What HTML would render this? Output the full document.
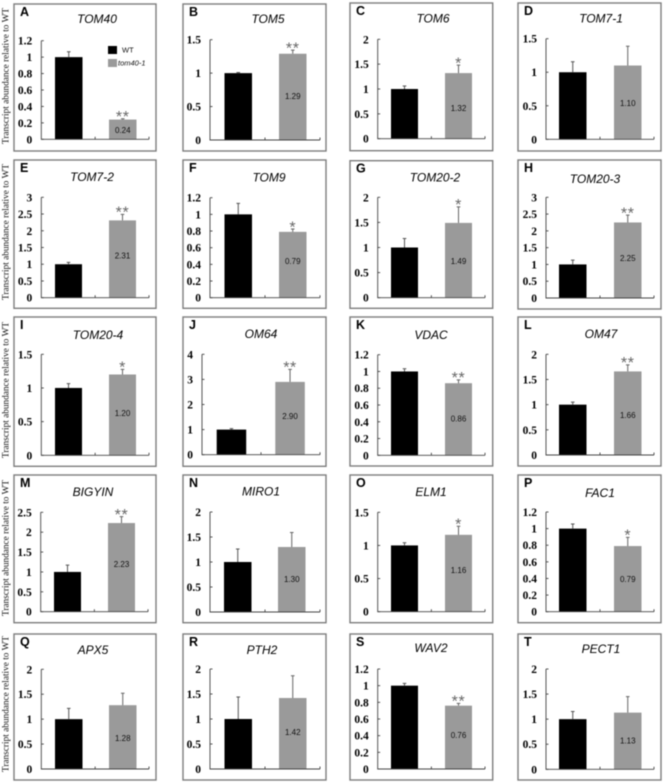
<!DOCTYPE html>
<html lang="en">
<head>
<meta charset="utf-8">
<title>Transcript abundance relative to WT</title>
<style>
html,body{margin:0;padding:0;background:#fff;width:666px;height:783px;overflow:hidden}
svg{display:block;filter:blur(0.45px)}
.ytick{font:bold 11.5px "Liberation Serif",serif;fill:#000;text-anchor:end}
.ylabel{font:9.5px "Liberation Serif",serif;fill:#111;text-anchor:middle}
.title{font:italic 12px "Liberation Sans",sans-serif;fill:#000;text-anchor:middle}
.letter{font:bold 12.5px "Liberation Sans",sans-serif;fill:#000}
.value{font:8px "Liberation Sans",sans-serif;fill:#111;text-anchor:middle}
.star{font:16px "Liberation Sans",sans-serif;fill:#666;text-anchor:middle;letter-spacing:0.6px}
.legend{font:7.5px "Liberation Sans",sans-serif;fill:#111}
</style>
</head>
<body>
<svg id="chart" width="666" height="783" viewBox="0 0 666 783" xmlns="http://www.w3.org/2000/svg"></svg>
<script>
// ---- chart data ----
const panelLetters = ["A","B","C","D","E","F","G","H","I","J","K","L","M","N","O","P","Q","R","S","T"];
const geneNames = ["TOM40","TOM5","TOM6","TOM7-1","TOM7-2","TOM9","TOM20-2","TOM20-3","TOM20-4","OM64","VDAC","OM47","BIGYIN","MIRO1","ELM1","FAC1","APX5","PTH2","WAV2","PECT1"];
const wtValues = [1,1,1,1,1,1,1,1,1,1,1,1,1,1,1,1,1,1,1,1];
const wtErrorTops = [1.066,1.01,1.06,1.157,1.056,1.132,1.18,1.13,1.064,1.04,1.033,1.05,1.17,1.26,1.04,1.055,1.217,1.44,1.028,1.153];
const mutantValues = [0.24,1.29,1.32,1.10,2.31,0.79,1.49,2.25,1.20,2.90,0.86,1.66,2.23,1.30,1.16,0.79,1.28,1.42,0.76,1.13];
const mutantErrorTops = [0.25,1.345,1.48,1.387,2.49,0.824,1.81,2.47,1.277,3.40,0.90,1.79,2.39,1.59,1.29,0.895,1.52,1.865,0.788,1.45];
const valueLabels = ["0.24","1.29","1.32","1.10","2.31","0.79","1.49","2.25","1.20","2.90","0.86","1.66","2.23","1.30","1.16","0.79","1.28","1.42","0.76","1.13"];
const significance = ["**","**","*","","**","*","*","**","*","**","**","**","**","","*","*","","","**",""];
const ticks12 = ["0","0.2","0.4","0.6","0.8","1","1.2"];
const ticks15 = ["0","0.5","1","1.5"];
const ticks2 = ["0","0.5","1","1.5","2"];
const ticks25 = ["0","0.5","1","1.5","2","2.5"];
const ticks3 = ["0","0.5","1","1.5","2","2.5","3"];
const ticks4 = ["0","1","2","3","4"];
const panelTicks = [ticks12,ticks15,ticks2,ticks15,ticks3,ticks12,ticks2,ticks3,ticks15,ticks4,ticks12,ticks2,ticks25,ticks2,ticks15,ticks12,ticks2,ticks2,ticks12,ticks2];
const yAxisTitle = "Transcript abundance relative to WT";
const legendLabels = ["WT","tom40-1"];

// ---- page layout (not data) ----
const layoutBoxes = [
 [14,4,156,151],[183,4,326,151],[350,3,492.7,150.7],[518,3,661,151],
 [14,160,156,308.3],[183,160,326,308.3],[350,160.7,492.7,308.3],[518,160,661,309],
 [14,317,156,466.3],[183,317,326,466.3],[350,317,492.7,466],[518,317,661,466],
 [14,475,156,622.7],[183,475,326,622.7],[350,475,492.7,622.7],[518,475,661,622.7],
 [14,634,156,780],[183,634,326,780],[350,634,492.7,780],[518,634,661,780]];
const layoutPlots = [
 [41.3,149,40.7,139.3],[210,320,39.7,140],[377.7,485,39.3,138.7],[546,654,38.7,139.3],
 [41.3,149,197.3,297.7],[210,320,197.7,297.7],[377.7,485,197.3,297.7],[546,654,197.3,298],
 [41.3,149,354.3,455.3],[202,320,354.3,454.7],[377.7,485,354.7,455.3],[546,654,354.3,455],
 [40.7,148,512.3,611.7],[210,320,512,612],[377.7,485,512.3,611.7],[546,654,512,611.7],
 [41.3,149,669.3,769],[210,320,669,769],[377.7,485,669,769],[546,654,669,769.3]];
const layoutBars = [
 [55,109,27.5],[224.5,279,27.5],[391,445,27],[559,614,27.5],
 [55,109,27],[224.5,279,27.5],[391,445,27],[559,614,27.5],
 [55,109,27],[216.7,275.3,29.5],[391,445,27],[559,614,27.5],
 [54,108,27],[224,278,27.5],[391,445,27],[559,614,27.5],
 [55,109,27.5],[224.5,279,27.5],[391,445,27],[559,614,27.5]];
const layoutTitles = [
 [97,23],[268,23],[433,22.7],[601,22.7],
 [92,181],[269,181.5],[435,181.5],[595,183],
 [98,339],[261,338],[431,339],[601,338],
 [93,496],[261,495.7],[431,496],[600,497],
 [93,654],[262,654],[431,652],[601,653]];
const layoutValueShift = [0.6,-1,2.4,0.9,-3.3,-3.8,0.7,-1.9,-1.6,-2.3,-0.5,2.1,-3.1,-0.2,-3.3,0.4,1.2,-1.2,-2.3,-0.3];
const layoutLabelRows = [76,232,390,548,704];

const svg = document.getElementById('chart');
const NS = 'http://www.w3.org/2000/svg';
function make(tag, attrs, parent) {
  const node = document.createElementNS(NS, tag);
  for (const k in attrs) node.setAttribute(k, attrs[k]);
  parent.appendChild(node);
  return node;
}
function makeYScale(plot, maxValue) {
  return function (v) { return plot[3] - (v / maxValue) * (plot[3] - plot[2]); };
}

panelLetters.forEach(function (letter, i) {
  const box = layoutBoxes[i], plot = layoutPlots[i], bars = layoutBars[i], t = layoutTitles[i];
  const ticks = panelTicks[i];
  const maxValue = parseFloat(ticks[ticks.length - 1]);
  const y = makeYScale(plot, maxValue);

  const g = make('g', {}, svg);
  
  

  const frame = make('rect', {x: box[0], y: box[1], width: box[2] - box[0], height: box[3] - box[1], fill: '#fff', stroke: '#7d7d7d', 'stroke-width': 1.4}, g);
  
  

  const letterText = make('text', {x: box[0] + 6, y: box[1] + 12, class: 'letter'}, g);
  letterText.textContent = letter;
  
  

  const title = make('text', {x: t[0], y: t[1], class: 'title'}, g);
  title.textContent = geneNames[i];
  
  

  // bars
  const wtBar = make('rect', {x: bars[0], y: y(wtValues[i]), width: bars[2], height: plot[3] - y(wtValues[i]), fill: '#000'}, g);
  
  

  const mutBar = make('rect', {x: bars[1], y: y(mutantValues[i]), width: bars[2], height: plot[3] - y(mutantValues[i]), fill: '#9a9a9a'}, g);
  
  

  // error bars
  const wtCx = bars[0] + bars[2] / 2, mutCx = bars[1] + bars[2] / 2;
  const wtErr = make('path', {d: 'M' + wtCx + ' ' + y(wtValues[i]) + 'V' + y(wtErrorTops[i]) + 'M' + (wtCx - 1.8) + ' ' + y(wtErrorTops[i]) + 'H' + (wtCx + 1.8), stroke: '#555', 'stroke-width': 1, fill: 'none'}, g);
  
  

  const mutErr = make('path', {d: 'M' + mutCx + ' ' + y(mutantValues[i]) + 'V' + y(mutantErrorTops[i]) + 'M' + (mutCx - 1.8) + ' ' + y(mutantErrorTops[i]) + 'H' + (mutCx + 1.8), stroke: '#666', 'stroke-width': 1, fill: 'none'}, g);
  
  

  // axes
  const axes = make('path', {d: 'M' + plot[0] + ' ' + plot[2] + 'V' + plot[3] + 'H' + plot[1], stroke: '#444', 'stroke-width': 0.9, fill: 'none'}, g);
  
  

  const midX = (plot[0] + plot[1]) / 2;
  const xTicks = make('path', {d: 'M' + midX + ' ' + plot[3] + 'v-2.5M' + plot[1] + ' ' + plot[3] + 'v-2.5', stroke: '#444', 'stroke-width': 0.9, fill: 'none'}, g);
  
  

  ticks.forEach(function (label) {
    const yy = y(parseFloat(label));
    const tick = make('line', {x1: plot[0], x2: plot[0] + 2.5, y1: yy, y2: yy, stroke: '#444', 'stroke-width': 0.9}, g);
    
    
    const tickLabel = make('text', {x: plot[0] - 9, y: yy + 4, class: 'ytick'}, g);
    tickLabel.textContent = label;
    
    
  });

  // printed value on mutant bar
  const midBar = (y(mutantValues[i]) + plot[3]) / 2;
  const val = make('text', {x: mutCx, y: midBar + layoutValueShift[i] + 2.9, class: 'value'}, g);
  val.textContent = valueLabels[i];
  
  

  // significance stars
  if (significance[i]) {
    const star = make('text', {x: mutCx, y: y(mutantErrorTops[i]) + 3.3, class: 'star'}, g);
    star.textContent = significance[i];
    
    
  }
});

// y-axis titles, one per row
layoutLabelRows.forEach(function (rowY) {
  const label = make('text', {class: 'ylabel', transform: 'translate(8.5,' + rowY + ') rotate(-90)', textLength: 136, lengthAdjust: 'spacingAndGlyphs'}, svg);
  label.textContent = yAxisTitle;
  
  
});

// legend
const legend = make('g', {}, svg);



const wtSwatch = make('rect', {x: 108, y: 46, width: 9, height: 8, fill: '#000'}, legend);



const wtText = make('text', {x: 122, y: 52.7, class: 'legend'}, legend);
wtText.textContent = legendLabels[0];



const mutSwatch = make('rect', {x: 108, y: 59, width: 9, height: 8, fill: '#9a9a9a'}, legend);



const mutText = make('text', {x: 118, y: 65.7, class: 'legend', style: 'font-style:italic'}, legend);
mutText.textContent = legendLabels[1];


</script>
</body>
</html>
